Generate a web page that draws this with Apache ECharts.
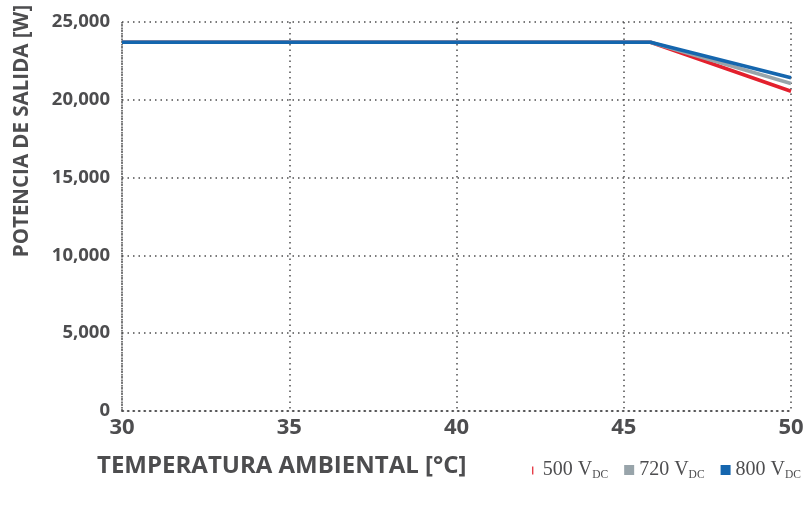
<!DOCTYPE html>
<html><head><meta charset="utf-8">
<script src="https://cdn.jsdelivr.net/npm/echarts@6/dist/echarts.min.js"></script>
<style>html,body{margin:0;padding:0;background:#fff}#c{width:808px;height:506px}</style>
</head><body><div id="c"></div>
<script>
const temps = [30, 45.8, 50];
const red500 = [23700, 23700, 20550];
const gray720 = [23700, 23700, 21050];
const blue800 = [23700, 23700, 21420];
const seriesNames = ['500 V', '720 V', '800 V'];
const xTitle = 'TEMPERATURA AMBIENTAL [°C]';
const yTitle = 'POTENCIA DE SALIDA [W]';

const txt = '#4d4d4f';
const colors = ['#e3202d', '#98a4aa', '#1566ae'];
const font = '"Open Sans", sans-serif';
const pairs = arr => temps.map((t, i) => [t, arr[i]]);
const chart = echarts.init(document.getElementById('c'));
const dotted = { color: '#4d4d4f', type: [1.5, 4], width: 1.5 };
chart.setOption({
  animation: false,
  grid: { left: 122, right: 17, top: 22, bottom: 95 },
  xAxis: {
    type: 'value', min: 30, max: 50, interval: 5,
    axisLine: { show: true, lineStyle: dotted },
    axisTick: { show: false },
    splitLine: { show: true, lineStyle: dotted },
    axisLabel: { color: txt, fontFamily: font, fontWeight: 'bold', fontSize: 22, margin: 6 }
  },
  yAxis: {
    type: 'value', min: 0, max: 25000, interval: 5000,
    axisLine: { show: true, lineStyle: dotted },
    axisTick: { show: false },
    splitLine: { show: true, lineStyle: dotted },
    axisLabel: { color: txt, fontFamily: font, fontWeight: 'bold', fontSize: 18.5, margin: 12,
      formatter: v => v === 0 ? '0' : v.toLocaleString('en-US') }
  },
  legend: {
    right: 2, top: 455, itemWidth: 10, itemHeight: 10, itemGap: 16,
    data: [
      { name: seriesNames[0], icon: 'path://M0,0h0.05v0.05h-0.05z M4.4,1.5h1.2v8h-1.2z M9.95,9.95h0.05v0.05h-0.05z' },
      { name: seriesNames[1], icon: 'rect' },
      { name: seriesNames[2], icon: 'rect' }
    ],
    formatter: n => '{a|' + n + '}{s|DC}',
    textStyle: {
      rich: {
        a: { fontFamily: '"Liberation Serif", serif', fontSize: 20, color: txt },
        s: { fontFamily: '"Liberation Serif", serif', fontSize: 11.5, color: txt, verticalAlign: 'bottom', padding: [10, 0, 0, 0] }
      }
    }
  },
  graphic: [
    { type: 'text', left: 97, top: 454, style: { text: xTitle, fill: txt, font: 'bold 24px "Open Sans", sans-serif' } },
    { type: 'text', x: 22, y: 131, rotation: Math.PI / 2, style: { text: yTitle, fill: txt, font: 'bold 20.5px "Open Sans", sans-serif', align: 'center', verticalAlign: 'middle' } }
  ],
  series: [
    { name: seriesNames[0], type: 'line', data: pairs(red500), showSymbol: false, lineStyle: { color: colors[0], width: 3.5 }, itemStyle: { color: colors[0] } },
    { name: seriesNames[1], type: 'line', data: pairs(gray720), showSymbol: false, lineStyle: { color: colors[1], width: 3.5 }, itemStyle: { color: colors[1] } },
    { name: seriesNames[2], type: 'line', data: pairs(blue800), showSymbol: false, lineStyle: { color: colors[2], width: 3.5 }, itemStyle: { color: colors[2] } }
  ]
});
</script></body></html>
